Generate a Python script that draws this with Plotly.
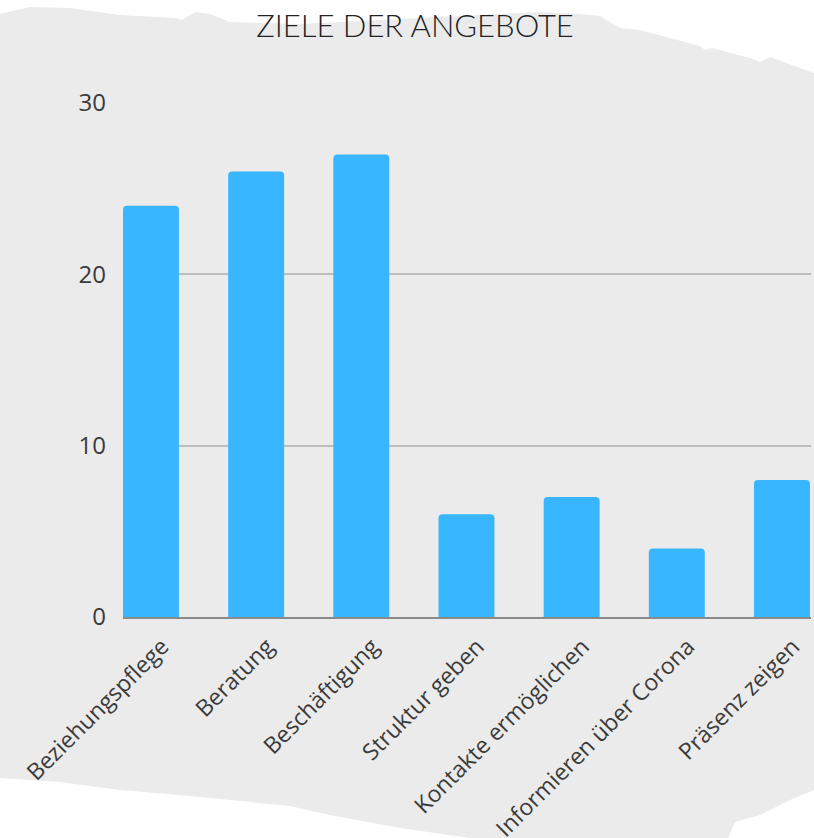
import plotly.graph_objects as go

categories = ["Beziehungspflege", "Beratung", "Beschäftigung", "Struktur geben",
              "Kontakte ermöglichen", "Informieren über Corona", "Präsenz zeigen"]
values = [24, 26, 27, 6, 7, 4, 8]
y_ticks = [0, 10, 20, 30]

W, H = 814, 838
L, R, T, B = 123, 3, 103, 221
PW, PH = W - L - R, H - T - B

def px(x, y):
    return (x - L) / PW, (H - B - y) / PH

# torn-paper background outline (pixel points)
outline = [(0, 14), (30, 7), (70, 8), (120, 15), (175, 18), (182, 20), (195, 12), (210, 14), (230, 22),
           (300, 24), (380, 20), (460, 16), (540, 12), (580, 14), (600, 16), (620, 28), (640, 30),
           (700, 46), (705, 50), (712, 48), (750, 58), (760, 62), (770, 57), (814, 73),
           (814, 790), (790, 800), (760, 815), (735, 822), (728, 838),
           (470, 838), (400, 828), (330, 815), (290, 806), (230, 800), (180, 795), (120, 790),
           (60, 782), (0, 778)]
pts = [px(x, y) for x, y in outline]
path = "M " + " L ".join(f"{a:.4f},{b:.4f}" for a, b in pts) + " Z"

fig = go.Figure(go.Bar(
    x=categories, y=values,
    marker=dict(color="#38b6ff", line=dict(width=0)),
    width=0.532,
))

fig.update_layout(
    width=W, height=H,
    margin=dict(l=L, r=R, t=T, b=B, autoexpand=False),
    paper_bgcolor="white",
    plot_bgcolor="rgba(0,0,0,0)",
    barcornerradius=4,
    showlegend=False,
    title=dict(text="ZIELE DER ANGEBOTE", x=415 / W, xanchor="center",
               y=1 - 26 / H, yanchor="middle", yref="container",
               font=dict(family="Lato", size=31, weight=300, color="#222222")),
    shapes=[dict(type="path", path=path, xref="paper", yref="paper",
                 fillcolor="#ebebeb", line=dict(width=0), layer="below")],
    xaxis=dict(range=[-0.266, 6.276], tickangle=-45,
               tickfont=dict(family="Open Sans", size=23, color="#3a3a3a"),
               showline=True, linecolor="#8a8a8a", linewidth=2,
               ticks="", ticklabelstandoff=5, ticklabelshift=11,
               showgrid=False, fixedrange=True),
    yaxis=dict(range=[0, 30], tickvals=y_ticks,
               tickfont=dict(family="Open Sans", size=24, color="#3a3a3a"),
               gridcolor="#bdbdbd", gridwidth=1.5, zeroline=False,
               ticks="", ticklabelstandoff=16, showline=False, fixedrange=True),
)

fig.write_html("out.html", config={"displayModeBar": False},
               post_script="document.body.style.margin='0';document.body.style.overflow='hidden';")
